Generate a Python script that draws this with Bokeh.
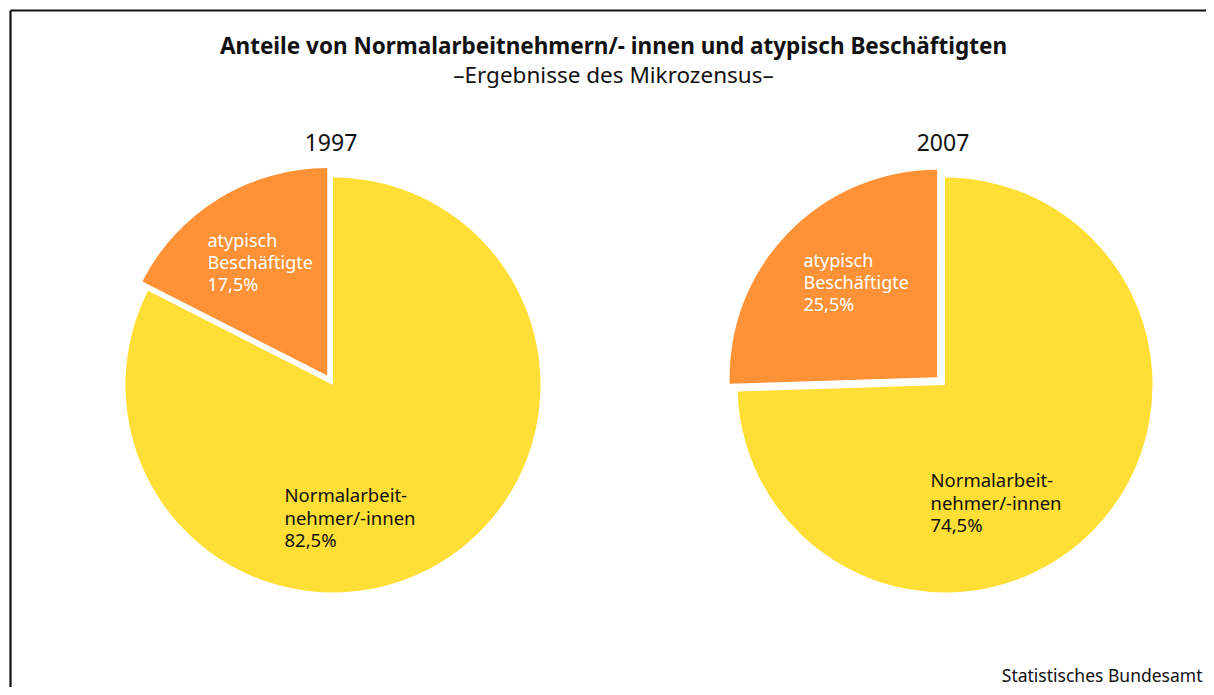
import math
from bokeh.plotting import figure
from bokeh.models import Range1d
from bokeh.core.properties import value
from bokeh.embed import file_html
from bokeh.resources import INLINE

# ---- data ----
years = ["1997", "2007"]
atypisch = [17.5, 25.5]
normal = [82.5, 74.5]
label_atyp = ["atypisch", "Beschäftigte"]
label_norm = ["Normalarbeit-", "nehmer/-innen"]
title = "Anteile von Normalarbeitnehmern/- innen und atypisch Beschäftigten"
subtitle = "\u2013Ergebnisse des Mikrozensus\u2013"
source = "Statistisches Bundesamt"

YELLOW = "#FFDF35"
ORANGE = "#FF9236"
FONT = "Noto Sans"

W, H = 1206, 687


def X(sx):
    return sx


def Y(sy):
    return H - sy


p = figure(width=W, height=H, output_backend="svg", toolbar_location=None,
           x_range=Range1d(0, W), y_range=Range1d(0, H), min_border=0)
p.axis.visible = False
p.grid.visible = False
p.outline_line_color = None
p.background_fill_color = "white"

# frame (left and top lines)
p.segment(x0=[X(10), X(10)], y0=[Y(10), Y(10)], x1=[X(10), X(W)], y1=[Y(H), Y(10)],
          line_color="#111111", line_width=2.2)

centers = [(332.5, 384.5), (944.5, 384.5)]
R = 207.5
EXPLODE = 11
atyp_text_pos = [(207, 239), (803, 259)]
norm_text_pos = [(284, 494), (930, 479)]

for i, yr in enumerate(years):
    cx, cy = centers[i]
    a0 = math.pi / 2
    a1 = a0 + atypisch[i] / 100 * 2 * math.pi
    mid = (a0 + a1) / 2
    p.wedge(x=[X(cx)], y=[Y(cy)], radius=R, radius_units="screen",
            start_angle=a1, end_angle=a0 + 2 * math.pi, direction="anticlock",
            fill_color=YELLOW, line_color=None)
    ox = X(cx) + EXPLODE * math.cos(mid)
    oy = Y(cy) + EXPLODE * math.sin(mid)
    p.wedge(x=[ox], y=[oy], radius=R, radius_units="screen",
            start_angle=a0, end_angle=a1, direction="anticlock",
            fill_color=ORANGE, line_color=None)
    p.text(x=[X(cx - 2)], y=[Y(142)], text=[yr], text_font=value(FONT),
           text_font_size="23px", text_align="center", text_baseline="middle",
           text_color="#111111")
    tx, ty = atyp_text_pos[i]
    lines = label_atyp + [f"{atypisch[i]:.1f}%".replace(".", ",")]
    for k, ln in enumerate(lines):
        p.text(x=[X(tx)], y=[Y(ty + k * 22)], text=[ln], text_font=value(FONT),
               text_font_size="18px", text_align="left", text_baseline="middle",
               text_color="white")
    tx, ty = norm_text_pos[i]
    lines = label_norm + [f"{normal[i]:.1f}%".replace(".", ",")]
    for k, ln in enumerate(lines):
        p.text(x=[X(tx)], y=[Y(ty + k * 22.5)], text=[ln], text_font=value(FONT),
               text_font_size="18.5px", text_align="left", text_baseline="middle",
               text_color="#111111")

p.text(x=[X(613)], y=[Y(45)], text=[title], text_font=value(FONT),
       text_font_size="22.5px", text_font_style="bold", text_align="center",
       text_baseline="middle", text_color="#111111")
p.text(x=[X(613)], y=[Y(74)], text=[subtitle], text_font=value(FONT),
       text_font_size="22.5px", text_align="center", text_baseline="middle",
       text_color="#111111")
p.text(x=[X(1202)], y=[Y(674)], text=[source], text_font=value(FONT),
       text_font_size="17.5px", text_align="right", text_baseline="middle",
       text_color="#111111")

open("out.html", "w").write(file_html(p, INLINE))
